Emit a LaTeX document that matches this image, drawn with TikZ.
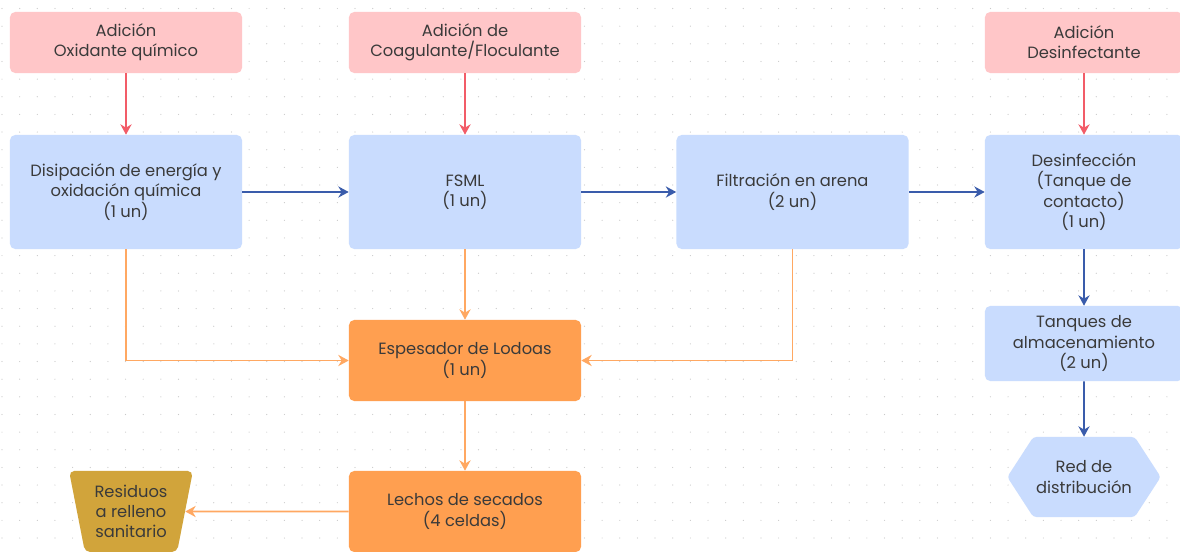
\documentclass[tikz,border=0pt]{standalone}
\usepackage{fontspec}
\setmainfont{Poppins}
\usepackage{tikz}
\usetikzlibrary{arrows.meta,positioning,shapes.geometric,shapes.symbols}
\definecolor{addpink}{HTML}{FFC6C8}
\definecolor{procblue}{HTML}{C9DCFE}
\definecolor{sludgeorange}{HTML}{FF9F50}
\definecolor{wastegold}{HTML}{D1A43B}
\definecolor{txtgray}{HTML}{3A3A3A}
\definecolor{redflow}{HTML}{F25C68}
\definecolor{blueflow}{HTML}{3A5CAB}
\definecolor{orangeflow}{HTML}{FFA862}
\definecolor{griddot}{HTML}{C9C9C9}
\tikzset{
  box/.style={rounded corners=1.3mm, inner sep=2pt, align=center, text=txtgray, font=\fontsize{11.6}{14.4}\selectfont},
  addnode/.style={box, fill=addpink, minimum width=5.8cm, minimum height=1.525cm},
  procnode/.style={box, fill=procblue, minimum width=5.8cm, minimum height=2.85cm},
  sludgenode/.style={box, fill=sludgeorange, minimum width=5.8cm, minimum height=2.025cm},
  flow/.style={line width=1.4pt, -{Stealth[length=2.6mm, width=2.8mm]}},
  dosing/.style={flow, draw=redflow},
  water/.style={flow, draw=blueflow},
  sludge/.style={flow, draw=orangeflow}
}

\begin{document}
\begin{tikzpicture}[x=0.025cm, y=-0.025cm]
\useasboundingbox (0,0) rectangle (1180,552);
\clip (0,0) rectangle (1180,552);
\fill[white] (0,0) rectangle (1180,552);
\foreach \i in {0,...,66}
  \foreach \j in {0,...,30}
    \fill[griddot] ({2+17.65*\i},{8.5+17.65*\j}) circle (0.6);

\node[addnode] (oxi) at (126,42.5) {Adición\\Oxidante químico};
\node[addnode] (coag) at (465,42.5) {Adición de\\Coagulante/Floculante};
\node[addnode, minimum width=4.95cm] (disadd) at (1084,42.5) {Adición\\Desinfectante};

\node[procnode] (disip) at (126,192) {Disipación de energía y\\oxidación química\\(1 un)};
\node[procnode] (fsml) at (465,192) {FSML\\(1 un)};
\node[procnode] (filt) at (792.5,192) {Filtración en arena\\(2 un)};
\node[procnode, minimum width=4.95cm] (desinf) at (1084,192) {Desinfección\\(Tanque de\\contacto)\\(1 un)};
\node[procnode, minimum width=4.95cm, minimum height=1.875cm] (tanq) at (1084,343.5) {Tanques de\\almacenamiento\\(2 un)};
\node[box, fill=procblue, signal, signal to=west and east, signal pointer angle=114,
  minimum width=3.675cm, minimum height=2cm, rounded corners=0.8mm] (red) at (1084,477) {Red de\\distribución};

\node[sludgenode] (esp) at (465,360.5) {Espesador de Lodoas\\(1 un)};
\node[sludgenode] (lech) at (465,511.5) {Lechos de secados\\(4 celdas)};
\node[box, fill=wastegold, trapezium, shape border rotate=180, trapezium angle=77,
  trapezium stretches=true, minimum width=3.1cm, minimum height=2.025cm] (resid) at (131,511.5) {Residuos\\a relleno\\sanitario};

\draw[dosing] (oxi) -- (disip);
\draw[dosing] (coag) -- (fsml);
\draw[dosing] (disadd) -- (desinf);

\draw[water] (disip) -- (fsml);
\draw[water] (fsml) -- (filt);
\draw[water] (filt) -- (desinf);
\draw[water] (desinf) -- (tanq);
\draw[water] (tanq) -- (red);

\draw[sludge] (disip.south) |- (esp.west);
\draw[sludge] (fsml) -- (esp);
\draw[sludge] (filt.south) |- (esp.east);
\draw[sludge] (esp) -- (lech);
\draw[sludge] (lech) -- (resid);
\end{tikzpicture}
\end{document}
